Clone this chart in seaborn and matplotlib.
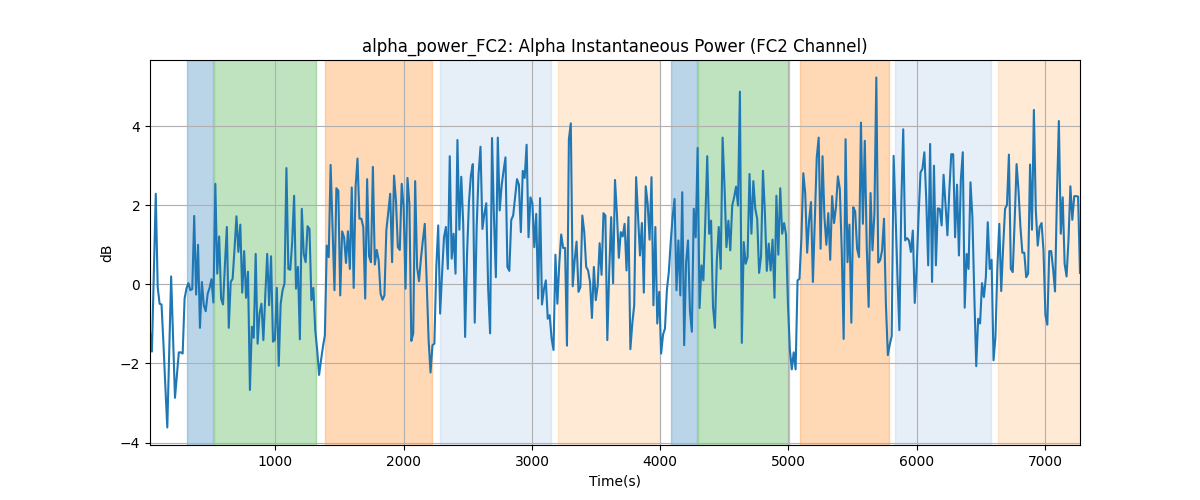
import numpy as np
import pandas as pd
import matplotlib
matplotlib.use("Agg")
import matplotlib.pyplot as plt
import seaborn as sns

T_START = 22.0
T_END = 7273.0

values = [
    -1.2, -1.7, 0.3, 2.29, -0.07, -0.49, -0.51, -1.5, -2.6, -3.62, -1.7, 0.2, -1.33, -2.87, -2.3, -1.72, -1.72, -1.75,
    -0.36, -0.1, 0.03, -0.15, -0.12, 1.73, -0.26, 1.0, -1.1, 0.06, -0.53, -0.68, -0.24, -0.09, 0.13, -0.46, 2.54,
    0.27, 1.21, -0.36, -0.51, 0.5, 1.45, -1.1, 0.06, 0.14, 0.9, 1.72, 0.82, 1.51, -0.21, 0.84, -0.34, 0.32,
    -2.67, -1.07, -1.35, 0.77, -1.5, -0.74, -0.49, -1.41, -0.28, 0.77, -0.53, 0.71, -1.45, -1.41, -0.09,
    -2.06, -0.49, -0.15, 0.02, 2.94,
    # segment 2
    0.39, 0.37, 1.07, 2.24, -0.11, 0.44, -1.39, 1.91, 0.77, 0.56, 1.47, 1.40, -0.40, -0.09, -1.16, -1.66,
    -2.29, -1.92, -1.58, -1.29, 0.98, 0.69, 3.02, 1.45, -0.15, 2.43, 2.37, -0.28, 1.34, 1.19, 0.54, 1.34,
    0.39, 2.45, -0.09, 2.47, 3.18, 1.66, 1.66, 1.45, -0.36, 2.66, 0.71, 0.56, 2.97, 0.50, 0.87, 0.61,
    -0.24, -0.39, -0.28, 1.36, 1.82, 2.29, 0.56, 2.75, 2.12, 0.94, 0.87, 2.54, 1.95, -0.11, 2.69, 2.03,
    -1.43, -1.24, 2.61, 0.44, 0.08, 0.65, 1.11, 1.53, 0.10, -1.41, -2.23, -1.54, -1.50, 0.44, 1.49,
    -0.74, 0.27, 1.19, 1.45,
    # segment 3
    0.39, 3.24, 0.65, 1.28, 0.27, 3.65, 1.38, 2.72, 1.53, -1.33, 0.77, 2.08, 2.75, 3.04, -0.97, 1.45,
    2.79, 3.48, 1.40, 1.78, 2.05, -0.11, -1.24, 3.70, 1.70, 0.18, 3.71, 1.87, 2.50, 2.87, 3.21, 0.44,
    0.34, 1.63, 1.74, 2.20, 2.66, 2.52, 1.32, 2.87, 2.69, 3.53, 1.19, 2.20, 2.05, 0.94, 1.78, -0.36,
    2.18, -0.51, -0.13, 0.10, -0.87, -0.78, -1.37, -1.66, 0.75, -0.49, 0.52, 1.26, 0.92, 0.92, -1.55,
    3.67, 4.07, -0.05, 0.61, 1.08, -0.19, -0.07, 1.74, 1.32, 0.44, 0.35, 0.06, -0.85, 0.44, -0.40,
    # segment 4
    -0.03, 1.04, 0.24, 1.80, 1.74, -1.41, 0.35, 1.70, 0.03, 2.64, 1.78, 0.67, 1.32, 1.21, 1.53, 0.35,
    1.70, -1.64, -0.99, -0.53, 2.71, 1.70, 0.73, 1.55, -0.21, 2.48, 2.03, 1.13, 2.71, -0.53, 1.45,
    -0.99, -0.19, -1.75, -1.27, -1.12, -0.15, 0.31, 1.07, 1.71, 2.16, -0.15, 1.11, -0.28, 2.33, -1.54,
    0.56, 1.11, -0.67, -1.20, 1.91, 1.19, 3.45, -0.60, 0.48, 0.10, 1.61, 3.24, 1.28, 1.61, -0.57,
    -1.10, 0.61, 1.45, 0.39, 3.71, 2.45, 0.94, 1.61, 0.86, 1.99, 2.20, 2.47, 1.99, 4.87, -1.48, 1.07, 0.52,
    # segment 5
    0.69, 2.79, 1.28, 2.61, 1.91, 1.66, 0.29, 0.71, 2.87, 1.82, 0.34, 1.03, 0.35, 1.13, -0.34, 2.24,
    0.75, 2.43, 1.28, 1.55, 1.26, -0.49, -1.66, -2.15, -1.72, -2.15, 0.10, 0.14, 1.15, 2.81, 2.30, 0.80,
    1.61, 2.08, 0.06, 1.61, 3.21, 3.71, 0.90, 3.24, 1.70, 1.00, 1.80, 0.62, 2.23, 1.55, 1.95, 2.73,
    2.41, 0.86, -1.38, 3.67, 0.56, 1.51, -0.97, 1.95, 1.84, 0.90, 0.69, 4.09, 1.53, 3.63, 0.98, -0.57,
    2.31, 0.86, 1.78, 5.23, 0.55, 0.61, 0.86, 1.66, -0.53, -1.79, -1.52, -1.31, 3.25, 1.78,
    # segment 6
    0.18, -1.16, 2.03, 3.92, 1.11, 1.17, 1.11, 0.82, 1.36, -0.47, 0.44, 1.74, 2.83, 2.92, 3.34, 2.12,
    0.48, 3.55, 0.06, 3.0, 0.48, 1.92, 1.91, 1.49, 2.77, 2.03, 1.24, 2.37, 3.29, 3.29, 1.19, 2.52, 0.73,
    2.66, 3.34, -0.59, 0.77, 0.39, 2.58, 1.70, -0.28, -2.07, -0.87, -0.99, 0.03, -0.32, 0.18, 1.57,
    0.39, 0.62, -1.92, -1.33, 0.44, 1.53, -0.17, 0.94, 1.91, 2.01, 3.28, 0.39, 0.31, 1.61, 3.04, 2.37,
    1.45, 0.80, 0.80, 0.18, 0.27, 3.03, 1.38, 4.41, 1.87, 0.98, 1.45, 1.55, 0.86, -0.78, -1.02, 0.84,
    0.84, 0.39, -0.18, 2.24, 4.13, 1.28, 2.20, 0.52, 0.20, 1.11, 2.48, 1.63, 2.23, 2.23, 2.22, 0.29,
]

span_starts = [308, 518, 1383, 2281, 3201, 4082, 4293, 5089, 5830, 6632]
span_ends = [510, 1316, 2220, 3149, 4000, 4287, 5004, 5785, 6582, 7400]
span_colors = ["#1f77b4", "#2ca02c", "#ff7f0e", "#aec7e8", "#ffbb78",
               "#1f77b4", "#2ca02c", "#ff7f0e", "#aec7e8", "#ffbb78"]

t = np.linspace(T_START, T_END, len(values))
df = pd.DataFrame({"Time(s)": t, "dB": values})

fig, ax = plt.subplots(figsize=(12, 5), dpi=100)
for s, e, c in zip(span_starts, span_ends, span_colors):
    ax.axvspan(s, e, color=c, alpha=0.3)
sns.lineplot(data=df, x="Time(s)", y="dB", ax=ax, color="#1f77b4", linewidth=1.5)
ax.set_xlim(t[0], t[-1])
ax.grid(True)
ax.set_title("alpha_power_FC2: Alpha Instantaneous Power (FC2 Channel)")
ax.set_xlabel("Time(s)")
ax.set_ylabel("dB")
fig.savefig("out.png", dpi=100)
